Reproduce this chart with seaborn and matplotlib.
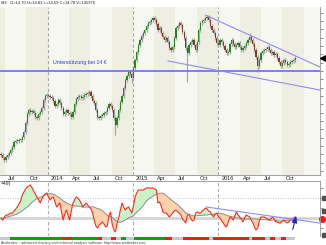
import numpy as np
import pandas as pd
import matplotlib
matplotlib.use("Agg")
import matplotlib.pyplot as plt
import matplotlib.dates as mdates
import matplotlib.transforms as mtrans
import seaborn as sns

# ---------------- data ----------------
start_week = "2013-06-14"
closes = [8.97, 8.79, 8.67, 8.85, 8.97, 9.09, 9.27, 9.45, 9.75, 9.81,
          9.81, 9.87, 9.87, 10.05, 10.35, 10.89, 11.43, 11.66, 11.54, 11.60,
          11.48, 11.25, 11.19, 11.43, 11.54, 11.78, 12.26, 12.50, 12.56, 12.50,
          12.44, 12.38, 12.20, 11.90, 12.02, 12.26, 12.08, 11.78, 11.43, 11.54,
          11.66, 11.48, 11.43, 11.25, 11.54, 12.02, 12.32, 12.44, 12.50, 12.38,
          12.44, 12.56, 12.62, 12.68, 12.74, 12.50, 12.20, 12.08, 11.66, 11.25,
          11.19, 11.31, 11.37, 11.48, 11.54, 11.78, 12.02, 11.90, 11.66, 11.19,
          10.77, 11.19, 11.66, 12.14, 12.50, 12.98, 13.46, 13.70, 13.94, 13.82,
          13.58, 14.18, 14.66, 15.14, 15.56, 15.86, 16.10, 16.28, 16.46, 16.69,
          16.87, 16.93, 17.05, 17.17, 17.05, 16.81, 16.46, 16.57, 16.28, 16.04,
          15.86, 15.98, 15.74, 15.38, 15.26, 15.44, 15.98, 16.57, 16.69, 16.87,
          16.75, 16.34, 15.98, 15.38, 15.08, 15.56, 15.74, 15.86, 15.56, 15.26,
          15.74, 16.46, 16.87, 16.99, 17.05, 17.17, 17.23, 17.05, 16.69, 16.46,
          16.28, 15.98, 15.68, 15.56, 15.86, 15.74, 15.50, 15.26, 15.08, 15.14,
          15.62, 15.86, 15.62, 15.44, 15.56, 15.68, 15.44, 15.26, 15.38, 15.50,
          15.68, 15.86, 16.04, 15.86, 15.62, 15.26, 14.84, 14.30, 14.66, 15.08,
          15.20, 15.26, 15.32, 15.44, 15.26, 15.08, 15.14, 14.96, 15.02, 14.78,
          14.54, 14.30, 14.48, 14.66, 14.54, 14.36, 14.42, 14.54, 14.60, 14.66,
          14.78]
first_open = 9.05
long_lows = {70: 10.17, 80: 13.30, 114: 13.34, 157: 13.94}
long_highs = {126: 17.35, 152: 16.25}

oscillator = [0, -2, 1, 3, 3, 4, 5, 5, 7, 9,
              11, 14, 17, 23, 26, 29, 31, 32, 33, 30,
              27, 24, 21, 18, 15, 19, 22, 24, 25, 21,
              18, 20, 21, 16, 11, 13, 15, 6, -2, 4,
              8, 3, -2, 7, 15, 18, 21, 20, 18, 15,
              11, 13, 15, 13, 11, 9, 5, -2, -8, -10,
              -7, -6, -4, -6, -9, -8, 2, 6, -6, -12,
              -14, -5, 0, 8, 15, 11, 8, 10, 11, 8,
              5, 12, 21, 25, 28, 28, 28, 28, 29, 30,
              30, 30, 30, 30, 29, 28, 15, 16, 12, 6,
              5, 5, 3, 1, 3, 5, 7, 8, 6, 5,
              3, -1, -3, -5, 3, 3, 0, -3, -2, 5,
              6, 5, 5, 7, 8, 10, 9, 7, 6, 3,
              1, 4, 5, 1, 0, -3, -5, -8, -9, -4,
              1, 0, -2, 2, 6, 3, 1, -1, -4, 0,
              3, 2, 1, -2, -5, -9, -12, -10, -3, 1,
              1, 1, 0, -1, -2, -1, 1, -1, -4, -4,
              -5, -5, -3, -2, -4, -5, -4, -2, -1, 0,
              1]
ma_window = 18

trend_states = [("n", 6), ("g", 32), ("r", 2), ("g", 1), ("r", 3), ("g", 15),
                ("r", 3), ("n", 6), ("r", 3), ("n", 3), ("g", 3), ("n", 5),
                ("g", 19), ("r", 4), ("n", 7), ("r", 16), ("n", 2), ("r", 22),
                ("n", 2), ("r", 8), ("n", 3), ("r", 3), ("n", 4), ("r", 3),
                ("n", 6)]

support_price = 14.0
support_label = "Unterstützung bei 14 €"
support_label_date = "2014-01-24"
upper_trend = (("2015-11-06", 17.35), ("2017-03-10", 14.24))
lower_trend = (("2015-05-29", 14.60), ("2017-03-10", 12.86))
osc_trend = (("2015-11-09", 11), ("2017-03-10", -5))
osc_arrow = (("2016-11-11", -14), ("2016-12-02", 5))

quarter_labels = ["Jul", "Oct", "2014", "Apr", "Jul", "Oct", "2015", "Apr",
                  "Jul", "Oct", "2016", "Apr", "Jul", "Oct"]
quarter_starts = ["2013-07-01", "2013-10-01", "2014-01-01", "2014-04-01",
                  "2014-07-01", "2014-10-01", "2015-01-01", "2015-04-01",
                  "2015-07-01", "2015-10-01", "2016-01-01", "2016-04-01",
                  "2016-07-01", "2016-10-01"]
header_date = "016"
header_ohlc = "O=14.70 H=14.83 L=14.59 C=14.78 V=145976"
osc_title = "=49)"
footer = "Amibroker - advanced charting and technical analysis software. http://www.amibroker.com"
last_close = 14.78

# ---------------- build frame ----------------
dates = pd.date_range(start_week, periods=len(closes), freq="W-FRI")
x = mdates.date2num(dates)
c = np.array(closes)
o = np.r_[first_open, c[:-1]]
hi = np.maximum(o, c) + 0.12
lo = np.minimum(o, c) - 0.12
for k, v in long_lows.items():
    lo[k] = v
for k, v in long_highs.items():
    hi[k] = v
df = pd.DataFrame({"x": x, "open": o, "close": c, "high": hi, "low": lo,
                   "osc": oscillator})
df["ma"] = df["osc"].rolling(ma_window, min_periods=1).mean()
states = [s for s, n in trend_states for _ in range(n)]

# ---------------- style ----------------
sns.set_style("white")
plt.rcParams["font.family"] = ["Liberation Sans", "DejaVu Sans"]

W, H = 326, 245
fig = plt.figure(figsize=(W / 100, H / 100), dpi=100)
fig.patch.set_facecolor("white")

def fr(x0, y0, x1, y1):
    return [x0 / W, 1 - y1 / H, (x1 - x0) / W, (y1 - y0) / H]

ax = fig.add_axes(fr(0, 7, 320, 175))
ax2 = fig.add_axes(fr(0, 181, 320, 236))
ax3 = fig.add_axes(fr(0, 237, 295, 240))

wk = 7.0
xmin = x[0] - 0.61 * wk
xmax = x[0] + 195.1 * wk
for a in (ax, ax2):
    a.set_xlim(xmin, xmax)
ax3.set_xlim(xmin, xmin + (xmax - xmin) * 295 / 320)
ax.set_ylim(7.77, 17.83)
ax2.set_ylim(-18, 37)

# quarter background bands
qs = pd.date_range("2013-04-01", "2017-04-01", freq="QS")
for a, b in zip(qs[:-1], qs[1:]):
    col = "#f7f7f1" if a.month in (1, 7) else "#efeee3"
    ax.axvspan(mdates.date2num(a), mdates.date2num(b), color=col, lw=0, zorder=0)
ax.set_facecolor("#efeee3")
for yr in ["2014-01-01", "2015-01-01", "2016-01-01"]:
    xv = mdates.date2num(pd.Timestamp(yr))
    ax.axvline(xv, color="#a8a8a0", lw=0.8, ls=(0, (3, 2)), zorder=1)
    ax2.axvline(xv, color="#b0b0b0", lw=0.8, ls=(0, (3, 2)), zorder=1)

# candles
up = df["close"] >= df["open"]
ax.vlines(df["x"], df["low"], df["high"], color="#a8a8a8", lw=0.9, zorder=2)
body_h = np.maximum((df["close"] - df["open"]).abs(), 0.06)
body_b = np.minimum(df["close"], df["open"])
ax.bar(df["x"][up], body_h[up], bottom=body_b[up], width=5.2,
       color="#1f8a1f", lw=0, zorder=3)
ax.bar(df["x"][~up], body_h[~up], bottom=body_b[~up], width=5.2,
       color="#8a3a22", lw=0, zorder=3)

# support and trend lines
ax.axhline(support_price, color="#7676ea", lw=1.3, zorder=4)
for (d0, p0), (d1, p1) in [upper_trend, lower_trend]:
    tl = pd.DataFrame({"x": mdates.date2num(pd.to_datetime([d0, d1])), "y": [p0, p1]})
    sns.lineplot(data=tl, x="x", y="y", ax=ax, color="#8e8ef2", lw=0.8, zorder=4)
ax.text(mdates.date2num(pd.Timestamp(support_label_date)), support_price + 0.42,
        support_label, color="#3a3ad8", fontsize=3.8, zorder=5)

# right axis
ax.yaxis.tick_right()
ax.set_yticks(np.arange(8.0, 18.0, 0.5))
ax.tick_params(axis="y", length=2, width=0.6, colors="#808080", labelright=False)
ax.set_xticks([])
ax.set_xlabel("")
ax.set_ylabel("")
for s in ["top", "left"]:
    ax.spines[s].set_visible(False)
ax.spines["right"].set_color("#909090")
ax.spines["bottom"].set_color("#909090")
for sp in ax.spines.values():
    sp.set_linewidth(0.6)
ax.plot([xmax], [last_close], marker="<", color="black", ms=4, clip_on=False, zorder=6,
        transform=mtrans.offset_copy(ax.transData, fig=fig, x=3, y=0, units="dots"))

# date labels
trans = mtrans.blended_transform_factory(ax.transData, ax.transAxes)
for d, lab in zip(quarter_starts, quarter_labels):
    ax.text(mdates.date2num(pd.Timestamp(d)) + 12, -3 / 168, lab, transform=trans,
            fontsize=4.0, va="center", ha="left", color="#202020", clip_on=False)

# ---------------- oscillator panel ----------------
ax2.set_facecolor("white")
ax2.axhline(0, color="#d4d4d4", lw=2.0, zorder=1)
ax2.axhline(20, color="#b0b0b0", lw=0.6, ls=(0, (1, 2)), zorder=1)
ax2.fill_between(df["x"], df["osc"], df["ma"], where=df["osc"] >= df["ma"],
                 interpolate=True, color="#c9f2c9", lw=0, zorder=2)
ax2.fill_between(df["x"], df["osc"], df["ma"], where=df["osc"] < df["ma"],
                 interpolate=True, color="#ffd2ae", lw=0, zorder=2)
sns.lineplot(data=df, x="x", y="ma", ax=ax2, color="#8c8c8c", lw=0.7, zorder=3)
sns.lineplot(data=df, x="x", y="osc", ax=ax2, color="#ff2a1a", lw=0.8, zorder=4)
(d0, v0), (d1, v1) = osc_trend
tl = pd.DataFrame({"x": mdates.date2num(pd.to_datetime([d0, d1])), "y": [v0, v1]})
sns.lineplot(data=tl, x="x", y="y", ax=ax2, color="#8e8ef2", lw=0.8, zorder=5)
(d0, v0), (d1, v1) = osc_arrow
ax2.annotate("", xy=(mdates.date2num(pd.Timestamp(d1)), v1),
             xytext=(mdates.date2num(pd.Timestamp(d0)), v0),
             arrowprops=dict(arrowstyle="-|>,head_width=0.15,head_length=0.4",
                             color="#1e1ee0", lw=0.8), zorder=6)
ax2.yaxis.tick_right()
ax2.set_yticks([-10, 0, 10, 20, 30])
ax2.tick_params(axis="y", length=2, width=0.6, colors="#808080", labelright=False)
ax2.set_xticks([])
ax2.set_xlabel("")
ax2.set_ylabel("")
for s in ["left", "bottom"]:
    ax2.spines[s].set_visible(False)
for s in ["top", "right"]:
    ax2.spines[s].set_color("#909090")
    ax2.spines[s].set_linewidth(0.6)
for yv in [20, 7.5, -17]:
    ax2.plot([xmax], [yv], marker="s", color="#505050", ms=3.2, clip_on=False,
             transform=mtrans.offset_copy(ax2.transData, fig=fig, x=4, y=0, units="dots"))
ax2.plot([xmax], [-1], marker="o", color="#ff1010", ms=4, clip_on=False,
         transform=mtrans.offset_copy(ax2.transData, fig=fig, x=2, y=0, units="dots"))
fig.text(1 / W, 1 - 183.5 / H, osc_title, fontsize=3.6, ha="left", va="center",
         color="#202020")

# ---------------- trend state bar ----------------
cmap = {"g": "#1a9a1a", "r": "#e8201a", "n": "#c8c8c8"}
ax3.bar(df["x"], 1, width=7.0, color=[cmap[s] for s in states], lw=0)
ax3.set_ylim(0, 1)
ax3.axis("off")

# header / footer
fig.text(0.5 / W, 1 - 3.5 / H, header_date, fontsize=3.0, ha="left", va="center",
         color="#202020")
fig.text(10 / W, 1 - 3.5 / H, header_ohlc, fontsize=3.0, ha="left", va="center",
         color="#202020")
fig.text(1 / W, 1 - 242.5 / H, footer, fontsize=2.6, ha="left", va="center",
         color="#404040")

fig.savefig("out.png", dpi=100)
